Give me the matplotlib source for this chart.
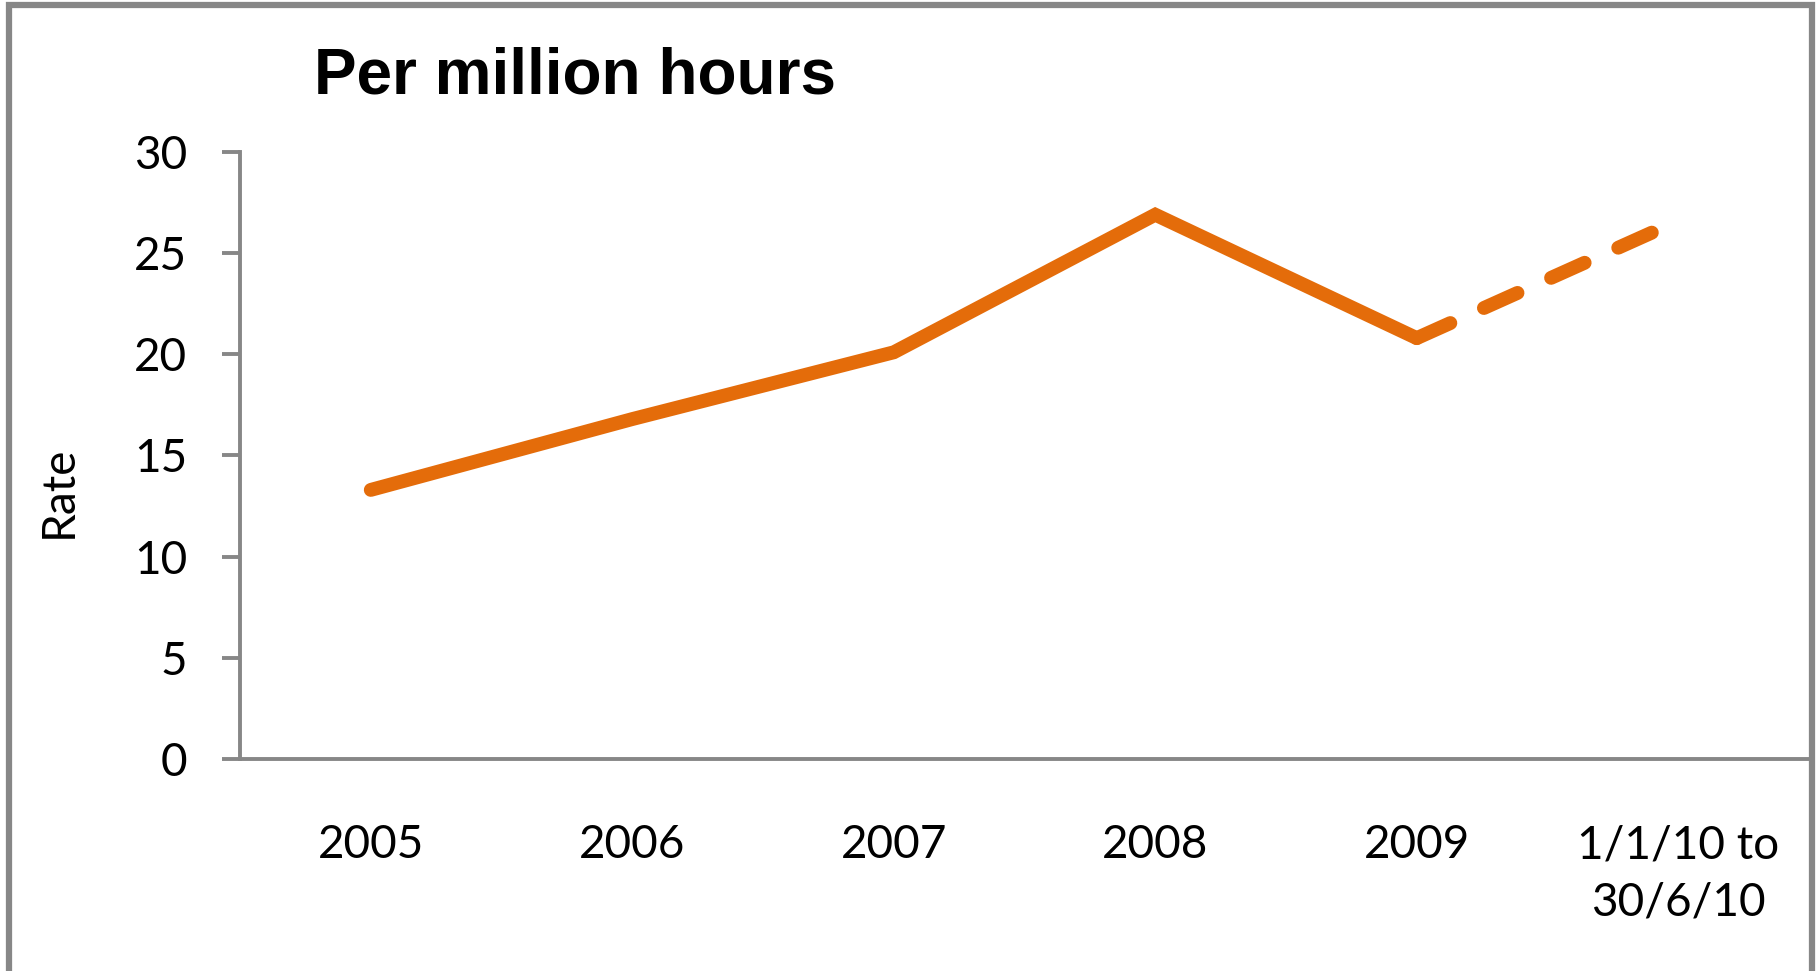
import matplotlib.pyplot as plt
from matplotlib.patches import Rectangle

categories = ["2005", "2006", "2007", "2008", "2009", "1/1/10 to\n30/6/10"]
rates = [13.3, 16.8, 20.1, 26.9, 20.8, 26.6]
y_ticks = [0, 5, 10, 15, 20, 25, 30]

ORANGE = "#E46C0A"
GREY = "#878787"

fig = plt.figure(figsize=(18.17, 9.71), dpi=100)
ax = fig.add_axes([0.1321, 0.2183, 0.8635, 0.6252])

x = [i + 0.5 for i in range(len(categories))]

# solid part up to 2009, dashed for the part-year figure
ax.plot(x[:5], rates[:5], color=ORANGE, lw=10,
        solid_capstyle="round", solid_joinstyle="miter")
ax.plot(x[4:], rates[4:], color=ORANGE, lw=10,
        linestyle=(0, (2.65, 2.65)), dash_capstyle="round")

ax.set_xlim(0, len(categories))
ax.set_ylim(0, 30)
ax.set_yticks(y_ticks)
ax.set_yticklabels([str(t) for t in y_ticks], family="Lato", fontsize=33)
ax.set_xticks(x)
ax.set_xticklabels(categories, family="Lato", fontsize=33, linespacing=1.45, va="top")
ax.tick_params(axis="y", direction="out", length=13, width=2.8, color=GREY, pad=25)
ax.tick_params(axis="x", length=0, pad=47)

for side in ["top", "right"]:
    ax.spines[side].set_visible(False)
for side in ["left", "bottom"]:
    ax.spines[side].set_color(GREY)
    ax.spines[side].set_linewidth(2.8)

ax.set_ylabel("Rate", family="Lato", fontsize=33)
ax.yaxis.set_label_coords(-0.102, 0.44)

fig.text(314 / 1817, 1 - 93 / 971, "Per million hours", family="Liberation Sans",
         fontweight="bold", fontsize=46, ha="left", va="baseline")

# outer chart border (bottom edge falls outside the image)
fig.patches.append(Rectangle((0.0048, -0.05), 0.9925, 1.0445, transform=fig.transFigure,
                             fill=False, edgecolor=GREY, linewidth=4.5))

fig.savefig("out.png", dpi=100)
